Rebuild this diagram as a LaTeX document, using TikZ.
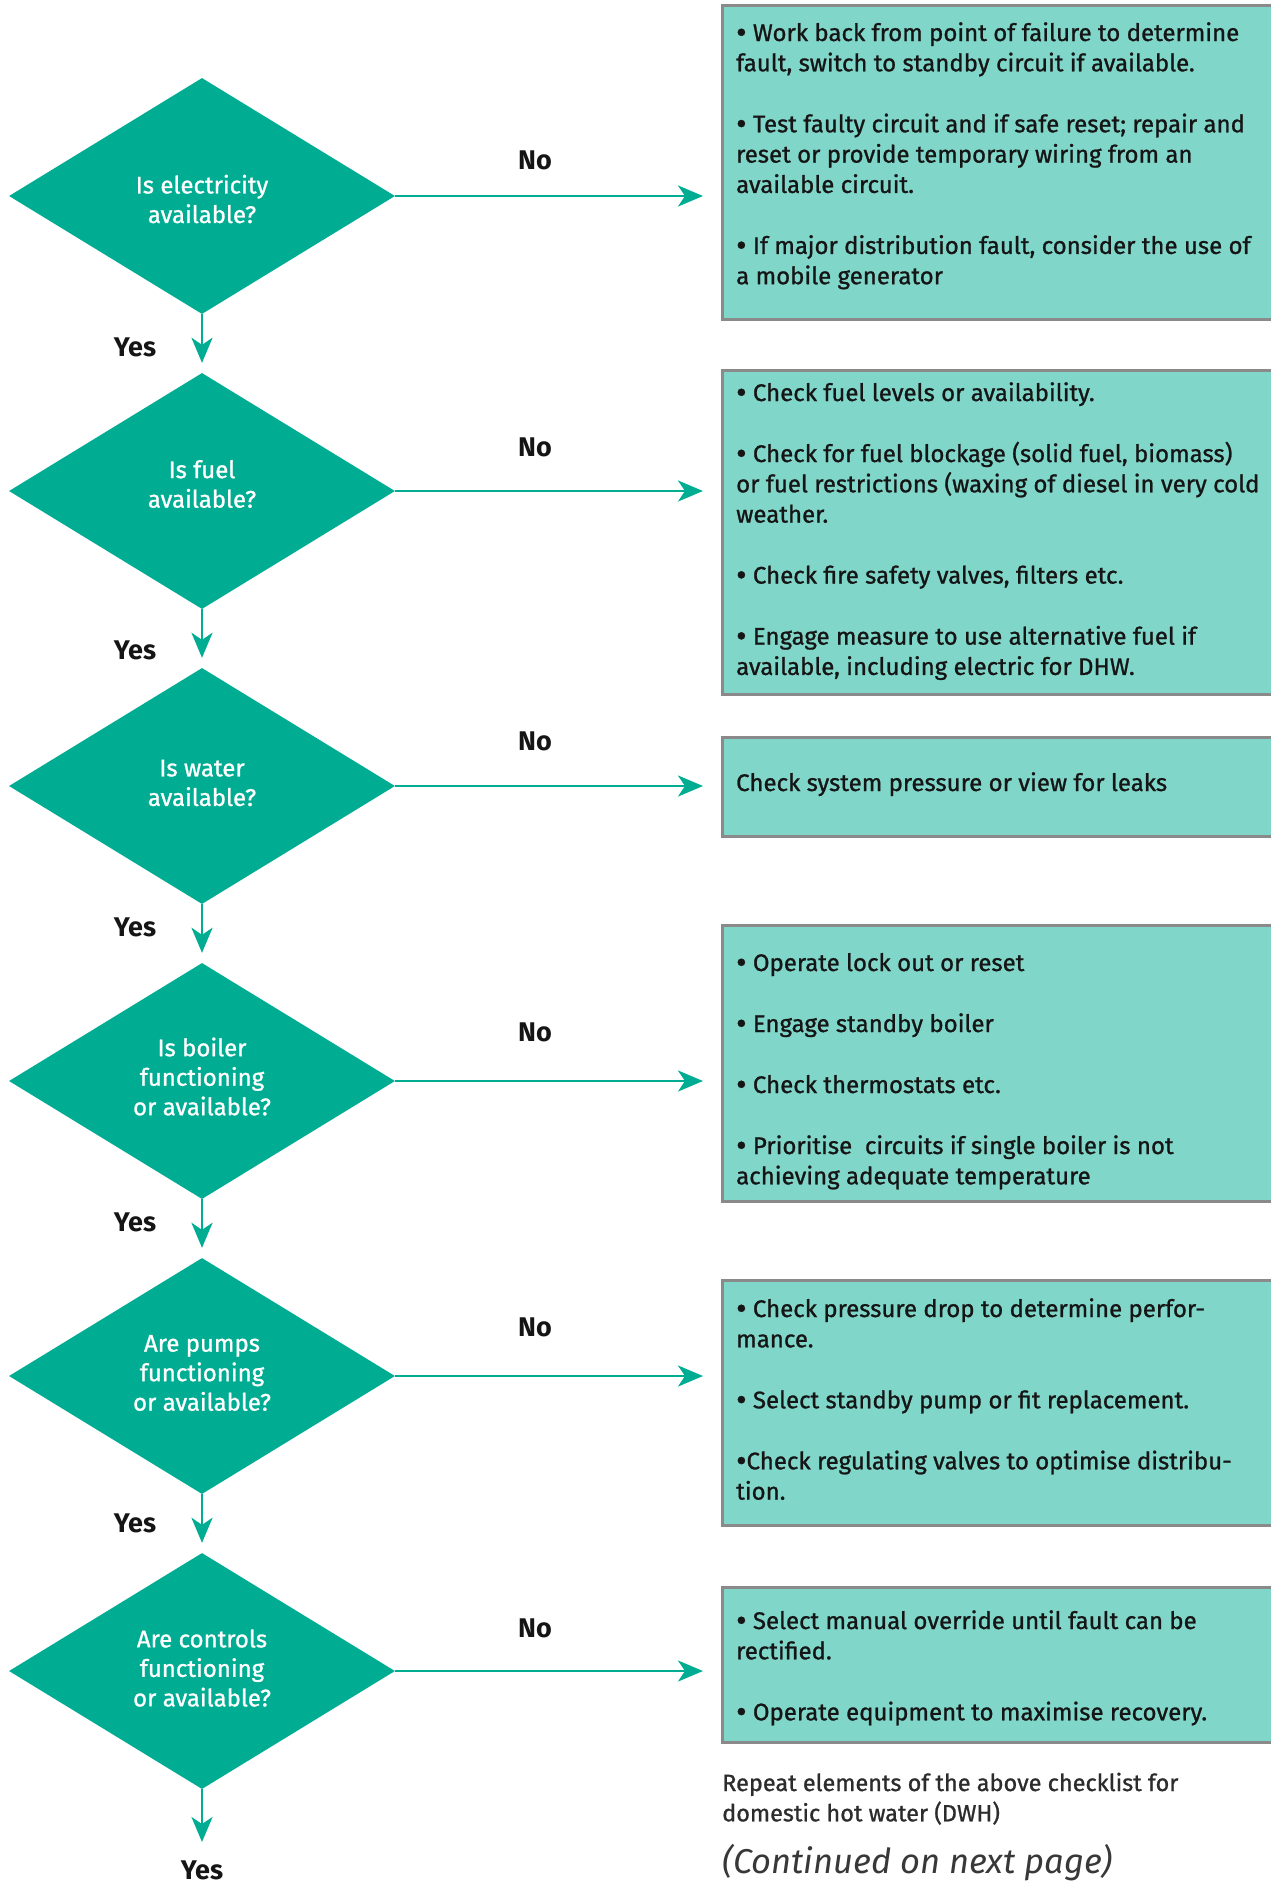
\documentclass[tikz,border=0pt]{standalone}
\usepackage{fontspec}
\setmainfont{Fira Sans}
\newfontfamily\medfont{Fira Sans}[FakeBold=1.0]
\usetikzlibrary{shapes.geometric,arrows.meta}
\definecolor{teal1}{HTML}{00AD93}
\definecolor{boxfill}{HTML}{80D6C9}
\definecolor{boxline}{HTML}{8A8A8A}
\definecolor{ink}{HTML}{151515}
\newcommand\tl[1]{\hbox{#1}}
\newcommand\pgap{\vskip 30.7pt}
\newcommand\bul{\raisebox{-2.2pt}{\fontsize{32}{30}\selectfont •}}
\newcommand\lns[1]{\vtop{\baselineskip=30.3pt\lineskiplimit=-50pt\lineskip=0pt #1}}
\begin{document}
\begin{tikzpicture}[x=1pt,y=-1pt,
  dia/.style={diamond, fill=teal1, minimum width=386pt, minimum height=236pt, inner sep=0pt},
  dtext/.style={text=white, font=\medfont\fontsize{24}{29.5}\selectfont, align=center, inner sep=0pt},
  abox/.style={draw=boxline, line width=2.5pt, fill=boxfill, anchor=north west, inner sep=0pt, minimum width=552pt},
  btext/.style={anchor=base west, inner sep=0pt, font=\medfont\fontsize{24}{30.3}\selectfont, text=ink},
  arr/.style={draw=teal1, line width=2.7pt, -{Stealth[length=25pt,width=21pt,inset=7pt]}},
  yn/.style={font=\bfseries\fontsize{27}{30}\selectfont, text=ink, inner sep=0pt}]
\useasboundingbox (0,0) rectangle (1271,1883);

% boxes
\node[abox, minimum height=314pt] (b1) at (721,4) {};
\node[abox, minimum height=324pt] (b2) at (721,369) {};
\node[abox, minimum height=99pt] (b3) at (721,736) {};
\node[abox, minimum height=276pt] (b4) at (721,924) {};
\node[abox, minimum height=245pt] (b5) at (721,1279) {};
\node[abox, minimum height=155pt] (b6) at (721,1586) {};

% box texts
\node[btext] (t1) at (736,41) {\lns{\tl{\bul\ Work back from point of failure to determine}\tl{fault, switch to standby circuit if available.}\pgap\tl{\bul\ Test faulty circuit and if safe reset; repair and}\tl{reset or provide temporary wiring from an}\tl{available circuit.}\pgap\tl{\bul\ If major distribution fault, consider the use of}\tl{a mobile generator}}};
\node[btext] (t2) at (736,401) {\lns{\tl{\bul\ Check fuel levels or availability.}\pgap\tl{\bul\ Check for fuel blockage (solid fuel, biomass)}\tl{or fuel restrictions (waxing of diesel in very cold}\tl{weather.}\pgap\tl{\bul\ Check fire safety valves, filters etc.}\pgap\tl{\bul\ Engage measure to use alternative fuel if}\tl{available, including electric for DHW.}}};
\node[btext] (t3) at (736,791) {Check system pressure or view for leaks};
\node[btext] (t4) at (736,971) {\lns{\tl{\bul\ Operate lock out or reset}\pgap\tl{\bul\ Engage standby boiler}\pgap\tl{\bul\ Check thermostats etc.}\pgap\tl{\bul\ Prioritise\ \ circuits if single boiler is not}\tl{achieving adequate temperature}}};
\node[btext] (t5) at (736,1317) {\lns{\tl{\bul\ Check pressure drop to determine perfor-}\tl{mance.}\pgap\tl{\bul\ Select standby pump or fit replacement.}\pgap\tl{\bul Check regulating valves to optimise distribu-}\tl{tion.}}};
\node[btext] (t6) at (736,1629) {\lns{\tl{\bul\ Select manual override until fault can be}\tl{rectified.}\pgap\tl{\bul\ Operate equipment to maximise recovery.}}};

% diamonds
\node[dia] (d1) at (202,196) {};
\node[dia] (d2) at (202,491) {};
\node[dia] (d3) at (202,786) {};
\node[dia] (d4) at (202,1081) {};
\node[dia] (d5) at (202,1376) {};
\node[dia] (d6) at (202,1671) {};
\node[dtext] (dt1) at ([yshift=-3pt]d1.center) {Is electricity\\available?};
\node[dtext] (dt2) at ([yshift=7pt]d2.center) {Is fuel\\available?};
\node[dtext] (dt3) at ([yshift=3pt]d3.center) {Is water\\available?};
\node[dtext] (dt4) at ([yshift=4.5pt]d4.center) {Is boiler\\functioning\\or available?};
\node[dtext] (dt5) at ([yshift=3pt]d5.center) {Are pumps\\functioning\\or available?};
\node[dtext] (dt6) at ([yshift=3pt]d6.center) {Are controls\\functioning\\or available?};

% no arrows
\draw[arr, shorten >=18pt] (d1.east) -- (d1.east -| b1.west);
\draw[arr, shorten >=18pt] (d2.east) -- (d2.east -| b2.west);
\draw[arr, shorten >=18pt] (d3.east) -- (d3.east -| b3.west);
\draw[arr, shorten >=18pt] (d4.east) -- (d4.east -| b4.west);
\draw[arr, shorten >=18pt] (d5.east) -- (d5.east -| b5.west);
\draw[arr, shorten >=18pt] (d6.east) -- (d6.east -| b6.west);

% yes arrows
\draw[arr, shorten >=10pt] (d1.south) -- (d2.north);
\draw[arr, shorten >=10pt] (d2.south) -- (d3.north);
\draw[arr, shorten >=10pt] (d3.south) -- (d4.north);
\draw[arr, shorten >=10pt] (d4.south) -- (d5.north);
\draw[arr, shorten >=10pt] (d5.south) -- (d6.north);
\coordinate (yend) at (202,1842);
\draw[arr] (d6.south) -- (yend);

% labels
\node[yn] (no1) at (535,160) {No};
\node[yn] (no2) at (535,447) {No};
\node[yn] (no3) at (535,741) {No};
\node[yn] (no4) at (535,1032) {No};
\node[yn] (no5) at (535,1327) {No};
\node[yn] (no6) at (535,1628) {No};
\node[yn] (y1) at (135,347) {Yes};
\node[yn] (y2) at (135,650) {Yes};
\node[yn] (y3) at (135,927) {Yes};
\node[yn] (y4) at (135,1222) {Yes};
\node[yn] (y5) at (135,1523) {Yes};
\node[yn] (y6) at (202,1870) {Yes};

% footer
\node[anchor=base west, inner sep=0pt, font=\medfont\fontsize{23.5}{30}\selectfont, text=ink!90] (rep) at (722,1791) {\lns{\tl{Repeat elements of the above checklist for}\tl{domestic hot water (DWH)}}};
\node[anchor=base west, inner sep=0pt, font=\itshape\fontsize{34.5}{36}\selectfont, text=ink!85] (cont) at (722,1873) {(Continued on next page)};
\end{tikzpicture}
\end{document}
